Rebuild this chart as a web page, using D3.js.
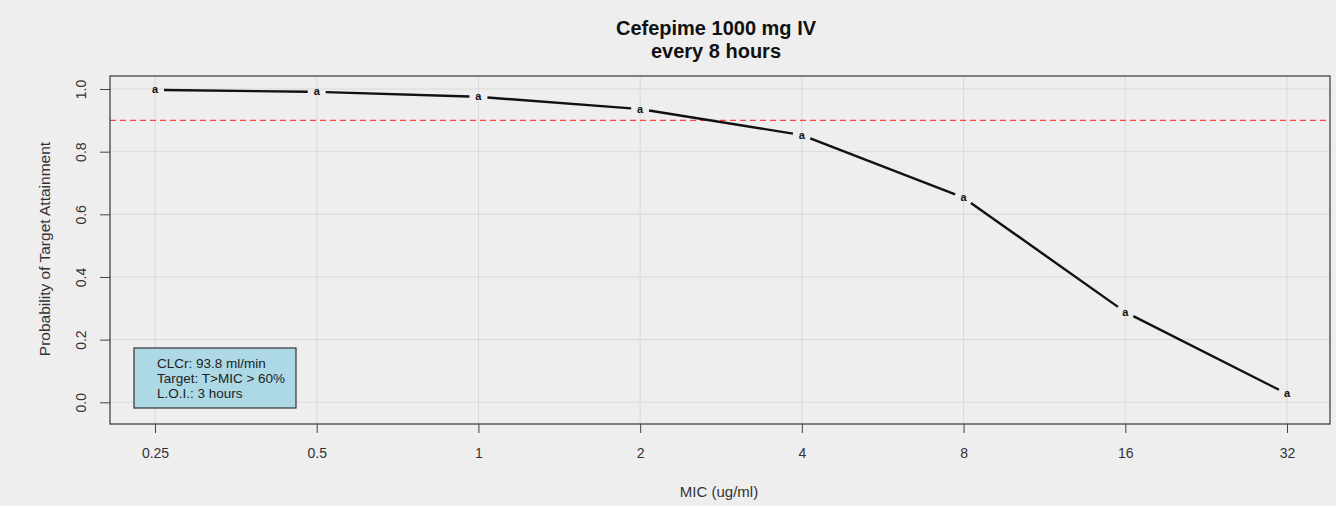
<!DOCTYPE html>
<html>
<head>
<meta charset="utf-8">
<script src="https://cdn.jsdelivr.net/npm/d3@7"></script>
<style>
  body { margin: 0; background: #eeeeee; }
  svg { display: block; font-family: "Liberation Sans", Arial, sans-serif; }
</style>
</head>
<body>
<svg id="chart" width="1336" height="506"></svg>
<script>
// data
var micValues = [0.25, 0.5, 1, 2, 4, 8, 16, 32];
var micLabels = ["0.25", "0.5", "1", "2", "4", "8", "16", "32"];
var ptaValues = [0.997, 0.991, 0.975, 0.936, 0.853, 0.653, 0.288, 0.027];
var yTicks = [0, 0.2, 0.4, 0.6, 0.8, 1.0];
var targetLine = 0.9;
var titleLines = ["Cefepime 1000 mg IV", "every 8 hours"];
var legendLines = ["CLCr: 93.8 ml/min", "Target: T>MIC > 60%", "L.O.I.: 3 hours"];

var svg = d3.select("#chart");
var box = { left: 110, right: 1330, top: 76, bottom: 424 };

var x = d3.scaleLog().base(2)
    .domain([0.25, 32])
    .range([155, 1287]);
var y = d3.scaleLinear()
    .domain([0, 1])
    .range([402.3, 89]);

svg.append("rect")
    .attr("width", 1336).attr("height", 506)
    .attr("fill", "#eeeeee");

// grid
var grid = svg.append("g").attr("class", "grid");
grid.selectAll("line.vx")
    .data(micValues).enter().append("line")
    .attr("x1", function(d) { return x(d); })
    .attr("x2", function(d) { return x(d); })
    .attr("y1", box.top).attr("y2", box.bottom)
    .attr("stroke", "#d9d9d9").attr("stroke-width", 1);
grid.selectAll("line.hy")
    .data(yTicks).enter().append("line")
    .attr("y1", function(d) { return y(d); })
    .attr("y2", function(d) { return y(d); })
    .attr("x1", box.left).attr("x2", box.right)
    .attr("stroke", "#d9d9d9").attr("stroke-width", 1);

// target line
svg.append("line")
    .attr("x1", box.left).attr("x2", box.right)
    .attr("y1", y(targetLine)).attr("y2", y(targetLine))
    .attr("stroke", "#ff4444")
    .attr("stroke-width", 1.3)
    .attr("stroke-dasharray", "6 4");

// axes
var xAxis = d3.axisBottom(x)
    .tickValues(micValues)
    .tickFormat(function(d, i) { return micLabels[i]; })
    .tickSize(9).tickPadding(15);
var gx = svg.append("g")
    .attr("transform", "translate(0," + box.bottom + ")")
    .call(xAxis);
gx.select(".domain").remove();
gx.selectAll("line").attr("stroke", "#444");
gx.selectAll("text").attr("font-size", 14).attr("fill", "#333")
    .style("font-family", "Liberation Sans, Arial, sans-serif");

var yAxis = d3.axisLeft(y)
    .tickValues(yTicks)
    .tickFormat(d3.format(".1f"))
    .tickSize(10).tickPadding(0);
var gy = svg.append("g")
    .attr("transform", "translate(" + box.left + ",0)")
    .call(yAxis);
gy.select(".domain").remove();
gy.selectAll("line").attr("stroke", "#444");
gy.selectAll("text")
    .attr("font-size", 14).attr("fill", "#333")
    .attr("x", null).attr("dy", null)
    .attr("text-anchor", "middle")
    .attr("transform", "translate(-24,0) rotate(-90)")
    .attr("y", 0)
    .style("font-family", "Liberation Sans, Arial, sans-serif");

// plot border
svg.append("rect")
    .attr("x", box.left).attr("y", box.top)
    .attr("width", box.right - box.left)
    .attr("height", box.bottom - box.top)
    .attr("fill", "none")
    .attr("stroke", "#444")
    .attr("stroke-width", 1.3);

// line with gaps around points (type "b")
var pts = micValues.map(function(d, i) { return { px: x(d), py: y(ptaValues[i]) }; });
var gap = 9;
var segs = [];
for (var i = 0; i < pts.length - 1; i++) {
    var a = pts[i], b = pts[i + 1];
    var dx = b.px - a.px, dy = b.py - a.py, len = Math.sqrt(dx * dx + dy * dy);
    var ux = dx / len, uy = dy / len;
    segs.push({ x1: a.px + ux * gap, y1: a.py + uy * gap, x2: b.px - ux * gap, y2: b.py - uy * gap });
}
svg.selectAll("line.seg")
    .data(segs).enter().append("line")
    .attr("class", "seg")
    .attr("x1", function(d) { return d.x1; })
    .attr("y1", function(d) { return d.y1; })
    .attr("x2", function(d) { return d.x2; })
    .attr("y2", function(d) { return d.y2; })
    .attr("stroke", "#111")
    .attr("stroke-width", 2.4);

svg.selectAll("text.pt")
    .data(pts).enter().append("text")
    .attr("class", "pt")
    .attr("x", function(d) { return d.px; })
    .attr("y", function(d) { return d.py + 3.5; })
    .attr("text-anchor", "middle")
    .attr("font-size", 11)
    .attr("font-weight", "bold")
    .attr("fill", "#111")
    .text("a");

// titles
svg.selectAll("text.title")
    .data(titleLines).enter().append("text")
    .attr("class", "title")
    .attr("x", 716)
    .attr("y", function(d, i) { return 35 + i * 23; })
    .attr("text-anchor", "middle")
    .attr("font-size", 20)
    .attr("font-weight", "bold")
    .attr("fill", "#111")
    .text(function(d) { return d; });

svg.append("text")
    .attr("x", 719).attr("y", 497)
    .attr("text-anchor", "middle")
    .attr("font-size", 15).attr("fill", "#333")
    .text("MIC (ug/ml)");

svg.append("text")
    .attr("transform", "translate(50,249) rotate(-90)")
    .attr("text-anchor", "middle")
    .attr("font-size", 15.5).attr("fill", "#333")
    .text("Probability of Target Attainment");

// legend box
var leg = svg.append("g").attr("transform", "translate(134,348)");
leg.append("rect")
    .attr("width", 162).attr("height", 60)
    .attr("fill", "#add8e6")
    .attr("stroke", "#333").attr("stroke-width", 1.2);
leg.selectAll("text")
    .data(legendLines).enter().append("text")
    .attr("x", 23)
    .attr("y", function(d, i) { return 19.5 + i * 15; })
    .attr("font-size", 13.5)
    .attr("fill", "#222")
    .text(function(d) { return d; });
</script>
</body>
</html>
